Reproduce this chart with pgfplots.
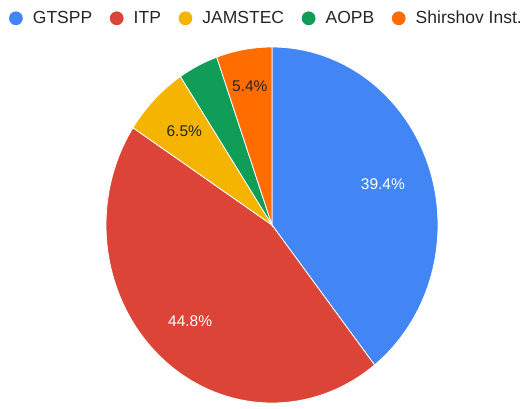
\documentclass[border=0pt]{standalone}
\usepackage{pgfplots}
\pgfplotsset{compat=1.18}
\usepackage{pgfplotstable}
\usepackage{fontspec}
\setmainfont{Liberation Sans}

\definecolor{gblue}{HTML}{4285F4}
\definecolor{gred}{HTML}{DB4437}
\definecolor{gyellow}{HTML}{F4B400}
\definecolor{ggreen}{HTML}{0F9D58}
\definecolor{gorange}{HTML}{FF6D01}

% Share of profiles per source (percent)
\pgfplotstableread{
source   share
GTSPP    39.4
ITP      44.8
JAMSTEC  6.5
AOPB     3.9
Shirshov 5.4
}\sharetable

\pgfplotstablegetelem{0}{share}\of\sharetable \let\sA\pgfplotsretval
\pgfplotstablegetelem{1}{share}\of\sharetable \let\sB\pgfplotsretval
\pgfplotstablegetelem{2}{share}\of\sharetable \let\sC\pgfplotsretval
\pgfplotstablegetelem{3}{share}\of\sharetable \let\sD\pgfplotsretval
\pgfplotstablegetelem{4}{share}\of\sharetable \let\sE\pgfplotsretval

% Slice boundaries, clockwise from twelve o'clock
\pgfmathsetmacro\aA{90}
\pgfmathsetmacro\aB{\aA-3.6*\sA}
\pgfmathsetmacro\aC{\aB-3.6*\sB}
\pgfmathsetmacro\aD{\aC-3.6*\sC}
\pgfmathsetmacro\aE{\aD-3.6*\sD}
\pgfmathsetmacro\aF{\aE-3.6*\sE}

% pie centre and radii
\def\cx{272}\def\cy{184}\def\rx{166}\def\ry{178}

\newcommand\slice[3]{%
  \addplot[fill=#3, draw=white, line width=0.8pt, domain=#1:#2, samples=90, variable=\t]
    ({\cx+\rx*cos(\t)},{\cy+\ry*sin(\t)}) -- (axis cs:\cx,\cy) -- cycle;}

\begin{document}
\begin{tikzpicture}
\begin{axis}[
  name=pie,
  scale only axis, width=532pt, height=409pt,
  xmin=0, xmax=532, ymin=0, ymax=409,
  hide axis, clip=false,
  legend columns=5,
  legend image code/.code={%
    \fill[#1, draw=none] (7pt,0pt) circle (6.9pt);
    \path[draw=none, fill=none] (0pt,-1pt) rectangle (22pt,1pt);},
  legend style={at={(axis cs:8.7,390.7)}, anchor=west, draw=none, fill=none,
    inner sep=0pt, font=\fontsize{17.5}{20}\selectfont, text=black!85,
    nodes={inner sep=2pt},
    /tikz/every even column/.append style={column sep=15.5pt}},
]
\addlegendimage{fill=gblue}
\addlegendentry{GTSPP}
\addlegendimage{fill=gred}
\addlegendentry{ITP}
\addlegendimage{fill=gyellow}
\addlegendentry{JAMSTEC}
\addlegendimage{fill=ggreen}
\addlegendentry{AOPB}
\addlegendimage{fill=gorange}
\addlegendentry{Shirshov Inst.}

\slice{\aB}{\aA}{gblue}
\slice{\aC}{\aB}{gred}
\slice{\aD}{\aC}{gyellow}
\slice{\aE}{\aD}{ggreen}
\slice{\aF}{\aE}{gorange}

% value labels at the middle of each slice
\pgfmathsetmacro\mA{(\aA+\aB)/2}
\pgfmathsetmacro\mB{(\aB+\aC)/2}
\pgfmathsetmacro\mC{(\aC+\aD)/2}
\pgfmathsetmacro\mE{(\aE+\aF)/2}
\begin{scope}[every node/.style={font=\fontsize{15.5}{18}\selectfont}]
\node[text=white] at (axis cs:{\cx+0.707*\rx*cos(\mA)},{\cy+0.707*\ry*sin(\mA)}) {\sA\%};
\node[text=white] at (axis cs:{\cx+0.73*\rx*cos(\mB)},{\cy+0.73*\ry*sin(\mB)}) {\sB\%};
\node[text=black!85] at (axis cs:{\cx+0.745*\rx*cos(\mC)},{\cy+0.745*\ry*sin(\mC)}) {\sC\%};
\node[text=black!85] at (axis cs:{\cx+0.79*\rx*cos(\mE)},{\cy+0.79*\ry*sin(\mE)}) {\sE\%};
\end{scope}
\end{axis}
\pgfresetboundingbox
\useasboundingbox (pie.south west) rectangle (pie.north east);
\end{tikzpicture}
\end{document}
